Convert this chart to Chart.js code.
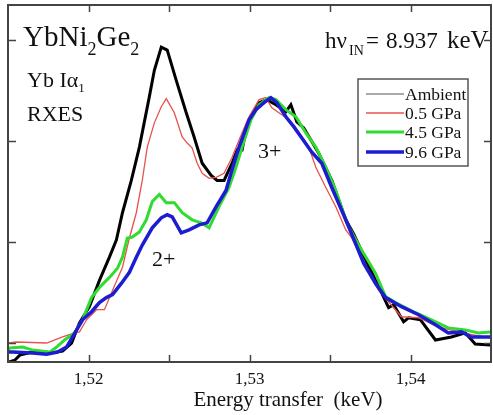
<!DOCTYPE html>
<html>
<head>
<meta charset="utf-8">
<script src="https://cdn.jsdelivr.net/npm/chart.js@4"></script>
<style>
  html, body { margin: 0; padding: 0; background: #fff; }
  #wrap { width: 493px; height: 415px; }
</style>
</head>
<body>
<div id="wrap"><canvas id="rxes" width="493" height="415"></canvas></div>
<script>
// Yb L-alpha1 RXES spectra of YbNi2Ge2 at several pressures
const xTicks = [1.52, 1.525, 1.53, 1.535, 1.54];
const yTicks = [0, 1, 2, 3];

const ambientE = [1.5150, 1.51542, 1.51573, 1.51653, 1.51759, 1.51839, 1.51895, 1.51944, 1.52006, 1.52068, 1.52130, 1.52173, 1.52211, 1.52266, 1.52316, 1.52378, 1.52409, 1.52452, 1.52489, 1.52545, 1.52607, 1.52656, 1.52706, 1.52762, 1.52799, 1.52842, 1.52892, 1.52923, 1.52954, 1.52966, 1.53009, 1.53059, 1.53108, 1.53164, 1.53226, 1.53257, 1.53294, 1.53337, 1.53430, 1.53511, 1.53598, 1.53647, 1.53728, 1.53808, 1.53864, 1.53895, 1.53957, 1.53988, 1.54062, 1.54155, 1.54254, 1.54341, 1.54402, 1.54495];
const ambientI = [-0.19, -0.17, -0.12, -0.09, -0.10, -0.08, 0.00, 0.20, 0.36, 0.62, 0.85, 1.02, 1.29, 1.61, 1.94, 2.44, 2.70, 2.93, 2.90, 2.60, 2.28, 2.04, 1.78, 1.66, 1.61, 1.61, 1.78, 1.91, 1.91, 2.01, 2.24, 2.38, 2.41, 2.36, 2.29, 2.36, 2.19, 2.13, 1.88, 1.61, 1.22, 1.08, 0.80, 0.54, 0.35, 0.38, 0.21, 0.25, 0.23, 0.03, 0.06, 0.10, -0.01, -0.02];

const gpa05E = [1.5150, 1.51554, 1.51740, 1.51839, 1.51895, 1.51944, 1.51988, 1.52050, 1.52099, 1.52149, 1.52211, 1.52254, 1.52297, 1.52334, 1.52365, 1.52409, 1.52452, 1.52483, 1.52533, 1.52582, 1.52613, 1.52644, 1.52675, 1.52706, 1.52749, 1.52793, 1.52842, 1.52892, 1.52935, 1.52997, 1.53059, 1.53102, 1.53139, 1.53183, 1.53245, 1.53307, 1.53368, 1.53412, 1.53474, 1.53536, 1.53598, 1.53635, 1.53709, 1.53802, 1.53944, 1.54050, 1.54173, 1.54297, 1.54390, 1.54495];
const gpa05I = [0.00, 0.01, 0.00, 0.06, 0.09, 0.11, 0.23, 0.33, 0.33, 0.52, 0.75, 1.04, 1.29, 1.61, 1.94, 2.18, 2.34, 2.42, 2.28, 2.04, 1.98, 1.93, 1.78, 1.68, 1.63, 1.64, 1.68, 1.84, 2.01, 2.24, 2.41, 2.43, 2.33, 2.28, 2.21, 2.08, 1.94, 1.74, 1.54, 1.35, 1.12, 1.04, 0.80, 0.52, 0.26, 0.25, 0.16, 0.11, 0.08, 0.05];

const gpa45E = [1.5150, 1.51511, 1.51591, 1.51653, 1.51759, 1.51802, 1.51851, 1.51913, 1.51963, 1.52019, 1.52068, 1.52130, 1.52180, 1.52211, 1.52241, 1.52272, 1.52316, 1.52359, 1.52396, 1.52440, 1.52483, 1.52533, 1.52582, 1.52644, 1.52700, 1.52749, 1.52811, 1.52873, 1.52916, 1.52954, 1.53009, 1.53059, 1.53121, 1.53164, 1.53226, 1.53288, 1.53350, 1.53412, 1.53474, 1.53536, 1.53604, 1.53678, 1.53783, 1.53845, 1.53907, 1.54031, 1.54130, 1.54235, 1.54341, 1.54421, 1.54495];
const gpa45I = [-0.07, -0.05, -0.04, -0.07, -0.09, -0.04, 0.03, 0.10, 0.23, 0.45, 0.55, 0.65, 0.74, 0.85, 1.04, 1.05, 1.10, 1.22, 1.40, 1.47, 1.39, 1.39, 1.29, 1.22, 1.19, 1.14, 1.35, 1.54, 1.74, 1.94, 2.21, 2.36, 2.43, 2.41, 2.31, 2.24, 2.08, 1.94, 1.74, 1.51, 1.19, 0.97, 0.69, 0.46, 0.40, 0.30, 0.23, 0.15, 0.13, 0.10, 0.11];

const gpa96E = [1.5150, 1.51529, 1.51653, 1.51740, 1.51808, 1.51864, 1.51901, 1.51963, 1.52019, 1.52068, 1.52111, 1.52149, 1.52204, 1.52254, 1.52297, 1.52334, 1.52396, 1.52452, 1.52489, 1.52520, 1.52576, 1.52625, 1.52687, 1.52737, 1.52793, 1.52854, 1.52885, 1.52935, 1.52997, 1.53040, 1.53090, 1.53133, 1.53170, 1.53226, 1.53276, 1.53325, 1.53387, 1.53449, 1.53511, 1.53598, 1.53709, 1.53783, 1.53845, 1.53944, 1.54050, 1.54155, 1.54235, 1.54316, 1.54378, 1.54495];
const gpa96I = [-0.09, -0.09, -0.10, -0.11, -0.09, -0.04, 0.06, 0.23, 0.31, 0.40, 0.45, 0.48, 0.59, 0.70, 0.85, 0.97, 1.14, 1.24, 1.27, 1.25, 1.09, 1.12, 1.17, 1.19, 1.35, 1.51, 1.68, 1.94, 2.21, 2.31, 2.38, 2.43, 2.38, 2.24, 2.14, 2.03, 1.89, 1.78, 1.54, 1.22, 0.79, 0.59, 0.45, 0.36, 0.28, 0.18, 0.10, 0.11, 0.06, 0.06];

const seriesLabels = ['Ambient', '0.5 GPa', '4.5 GPa', '9.6 GPa'];

const SERIF = '"Liberation Serif", "Times New Roman", serif';

function pts(xs, ys) {
    return xs.map((x, i) => ({ x: x, y: ys[i] }));
}

// frame, inward ticks, annotations and legend box
const decorPlugin = {
    id: 'decor',
    afterDraw(chart) {
        const ctx = chart.ctx;
        const a = chart.chartArea;
        const xs = chart.scales.x;
        const ys = chart.scales.y;
        ctx.save();

        // tick marks pointing into the plot
        ctx.strokeStyle = '#444';
        ctx.lineWidth = 1.5;
        ctx.beginPath();
        xTicks.forEach(v => {
            const px = Math.round(xs.getPixelForValue(v)) + 0.5;
            ctx.moveTo(px, a.bottom); ctx.lineTo(px, a.bottom - 7);
            ctx.moveTo(px, a.top); ctx.lineTo(px, a.top + 7);
        });
        yTicks.forEach(v => {
            const py = Math.round(ys.getPixelForValue(v)) + 0.5;
            ctx.moveTo(a.left, py); ctx.lineTo(a.left + 8, py);
            ctx.moveTo(a.right, py); ctx.lineTo(a.right - 7, py);
        });
        ctx.stroke();

        // text inside the plot, clipped at the frame
        ctx.save();
        ctx.beginPath();
        ctx.rect(a.left, a.top, a.right - a.left, a.bottom - a.top);
        ctx.clip();
        ctx.fillStyle = '#111';
        ctx.textBaseline = 'alphabetic';
        ctx.textAlign = 'left';

        let x = 23;
        const big = '29px ' + SERIF, sub = '18px ' + SERIF;
        [['Y', big, 0], ['b', big, 0], ['N', big, 0], ['i', big, 0], ['2', sub, 9],
         ['G', big, 0], ['e', big, 0], ['2', sub, 9]].forEach(([t, f, dy]) => {
            ctx.font = f;
            ctx.fillText(t, x, 46 + dy);
            x += ctx.measureText(t).width;
        });

        ctx.font = '22px ' + SERIF;
        ctx.fillText('Yb I\u03b1', 27, 87);
        let w = ctx.measureText('Yb I\u03b1').width;
        ctx.font = '13px ' + SERIF;
        ctx.fillText('1', 27 + w, 92);
        ctx.font = '22px ' + SERIF;
        ctx.fillText('RXES', 27, 121);

        // incident energy, set piece by piece
        ctx.font = '23px ' + SERIF;
        ctx.fillText('h\u03bd', 325, 48);
        ctx.font = '14px ' + SERIF;
        ctx.fillText('IN', 349, 55);
        ctx.font = '23px ' + SERIF;
        ctx.fillText('=', 366, 48);
        ctx.fillText('8.937', 386, 48);
        ctx.font = '25px ' + SERIF;
        ctx.fillText('keV', 447, 48);

        ctx.font = '22px ' + SERIF;
        ctx.fillText('3+', 258, 158);
        ctx.fillText('2+', 152, 266);
        ctx.restore();

        // legend
        const lx = 358, ly = 79, lw = 110, lh = 87;
        ctx.fillStyle = '#fff';
        ctx.fillRect(lx, ly, lw, lh);
        ctx.strokeStyle = '#555';
        ctx.lineWidth = 1.5;
        ctx.strokeRect(lx, ly, lw, lh);
        const rows = [94, 113, 132, 152];
        const sampleW = [1, 1.3, 3, 3.5];
        const sampleC = ['#555', '#e8524c', '#2fdc2f', '#1c1cd0'];
        ctx.font = '17.5px ' + SERIF;
        ctx.textBaseline = 'middle';
        seriesLabels.forEach((lab, i) => {
            ctx.strokeStyle = sampleC[i];
            ctx.lineWidth = sampleW[i];
            ctx.beginPath();
            ctx.moveTo(366, rows[i]);
            ctx.lineTo(404, rows[i]);
            ctx.stroke();
            ctx.fillStyle = '#111';
            ctx.fillText(lab, 405, rows[i] + 1);
        });

        // frame
        ctx.strokeStyle = '#444';
        ctx.lineWidth = 2;
        ctx.strokeRect(a.left, a.top, a.right - a.left, a.bottom - a.top);

        // axis title
        ctx.fillStyle = '#111';
        ctx.font = '21px ' + SERIF;
        ctx.textAlign = 'center';
        ctx.textBaseline = 'alphabetic';
        ctx.fillText('Energy transfer  (keV)', 288, 406);
        ctx.restore();
    }
};

new Chart(document.getElementById('rxes'), {
    type: 'scatter',
    data: {
        datasets: [
            { label: seriesLabels[0], data: pts(ambientE, ambientI), borderColor: '#000', borderWidth: 3, order: 3 },
            { label: seriesLabels[1], data: pts(gpa05E, gpa05I), borderColor: '#e8524c', borderWidth: 1.3, order: 2 },
            { label: seriesLabels[2], data: pts(gpa45E, gpa45I), borderColor: '#2fdc2f', borderWidth: 3, order: 1 },
            { label: seriesLabels[3], data: pts(gpa96E, gpa96I), borderColor: '#1c1cd0', borderWidth: 3.5, order: 0 }
        ].map(d => Object.assign(d, { showLine: true, pointRadius: 0, tension: 0, fill: false }))
    },
    options: {
        responsive: false,
        animation: false,
        devicePixelRatio: 1,
        layout: { padding: { left: 8, right: 2, top: 5, bottom: 0 } },
        plugins: { legend: { display: false }, tooltip: { enabled: false } },
        scales: {
            x: {
                type: 'linear',
                min: 1.515,
                max: 1.545,
                grid: { display: false, drawTicks: false },
                border: { display: false },
                afterBuildTicks: s => { s.ticks = xTicks.map(v => ({ value: v })); },
                afterFit: s => { s.height = 53; },
                ticks: {
                    padding: 7,
                    color: '#111',
                    font: { family: SERIF, size: 17 },
                    callback: v => (Math.abs(v * 100 - Math.round(v * 100)) < 1e-6 ? v.toFixed(2).replace('.', ',') : '')
                }
            },
            y: {
                display: false,
                min: -0.188,
                max: 3.347
            }
        }
    },
    plugins: [decorPlugin]
});
</script>
</body>
</html>
